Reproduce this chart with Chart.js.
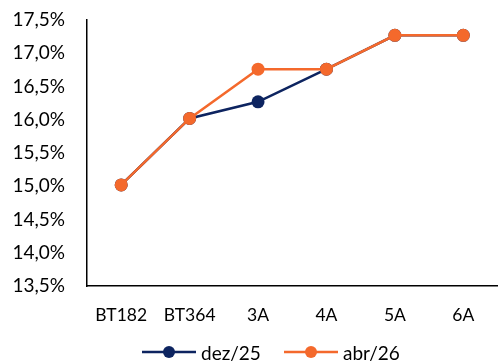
<!DOCTYPE html>
<html>
<head>
<meta charset="utf-8">
<script src="https://cdn.jsdelivr.net/npm/chart.js@4.4.1/dist/chart.umd.min.js"></script>
<style>
  html, body { margin: 0; padding: 0; background: #fff; overflow: hidden; }
  #wrap { position: relative; width: 504px; height: 364px; }
  #c { display: block; }
  .leg { position: absolute; top: 340px; height: 24px; display: flex; align-items: center;
         font-family: Lato, 'Open Sans', sans-serif; font-size: 19px; color: #000; }
  .leg canvas { margin-right: 5px; }
</style>
</head>
<body>
<div id="wrap">
  <canvas id="c" width="504" height="364"></canvas>
  <div class="leg" id="leg0" style="left:142px"></div>
  <div class="leg" id="leg1" style="left:284px"></div>
</div>
<script>
// Yield curve by tenor, two reference dates
const categories = ['BT182', 'BT364', '3A', '4A', '5A', '6A'];
const dez25 = [15.02, 16.02, 16.27, 16.76, 17.27, 17.27];
const abr26 = [15.02, 16.02, 16.76, 16.76, 17.27, 17.27];
const seriesNames = ['dez/25', 'abr/26'];
const yMin = 13.5, yMax = 17.5, yStep = 0.5;

const NAVY = '#0d2460';
const ORANGE = '#f4692c';
const FONT = "Lato, 'Open Sans', sans-serif";

// legend swatch: short line with a dot in the middle
function swatch(color) {
  const cv = document.createElement('canvas');
  cv.width = 54; cv.height = 14;
  const g = cv.getContext('2d');
  g.strokeStyle = color; g.lineWidth = 2.5;
  g.beginPath(); g.moveTo(0, 7); g.lineTo(54, 7); g.stroke();
  g.fillStyle = color;
  g.beginPath(); g.arc(27, 7, 6, 0, Math.PI * 2); g.fill();
  return cv;
}

const fmt = v => v.toFixed(1).replace('.', ',') + '%';

const chart = new Chart(document.getElementById('c'), {
  type: 'line',
  data: {
    labels: categories,
    datasets: [
      { label: seriesNames[1], data: abr26, borderColor: ORANGE, backgroundColor: ORANGE,
        borderWidth: 2.5, pointRadius: 6.5, pointHoverRadius: 6.5, pointBorderWidth: 0, order: 0,
        tension: 0 },
      { label: seriesNames[0], data: dez25, borderColor: NAVY, backgroundColor: NAVY,
        borderWidth: 2.5, pointRadius: 6.5, pointHoverRadius: 6.5, pointBorderWidth: 0, order: 1,
        tension: 0 }
    ]
  },
  options: {
    responsive: false,
    animation: false,
    layout: { padding: { left: 0, right: 0, top: 20, bottom: 0 } },
    plugins: {
      tooltip: { enabled: false },
      legend: { display: false }
    },
    scales: {
      x: {
        offset: true,
        // invisible tick marks keep the labels clear of the axis line
        grid: { display: true, drawOnChartArea: false, drawTicks: true, tickLength: 19,
                tickColor: 'rgba(0,0,0,0)', color: 'rgba(0,0,0,0)' },
        border: { display: true, color: '#000', width: 1.5 },
        ticks: { color: '#000', font: { family: FONT, size: 17.5 }, padding: 0, maxRotation: 0 },
        afterFit: s => { s.height = 78; s.paddingLeft = 0; s.paddingRight = 0; }
      },
      y: {
        min: yMin, max: yMax,
        grid: { display: false, drawTicks: false },
        border: { display: true, color: '#000', width: 1.5 },
        ticks: { stepSize: yStep, color: '#000', font: { family: FONT, size: 19 }, padding: 22,
                 callback: v => fmt(v) },
        afterFit: s => { s.width = 87; s.paddingTop = 0; s.paddingBottom = 0; }
      }
    }
  }
});

// legend entries, navy first
[[0, 1], [1, 0]].forEach(([slot, di]) => {
  const ds = chart.data.datasets[di];
  const el = document.getElementById('leg' + slot);
  el.appendChild(swatch(ds.borderColor));
  const t = document.createElement('span');
  t.textContent = ds.label;
  el.appendChild(t);
});
</script>
</body>
</html>
